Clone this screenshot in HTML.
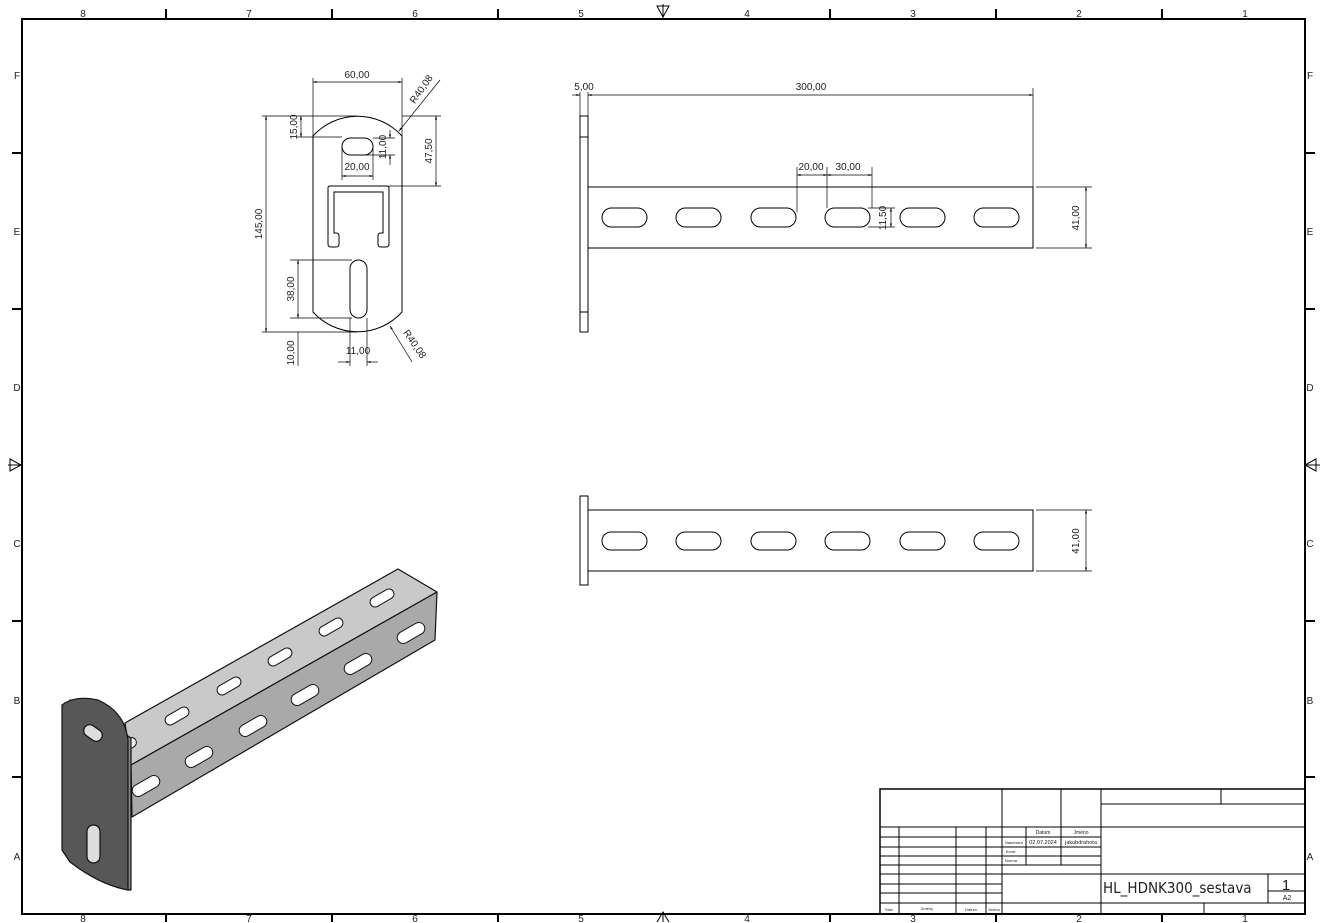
<!DOCTYPE html>
<html><head><meta charset="utf-8"><style>
html,body{margin:0;padding:0;background:#fff}
svg{display:block}
text{font-family:"Liberation Sans",sans-serif;fill:#222}
.d{font-size:10px;font-family:"DejaVu Sans Condensed","Liberation Sans",sans-serif}
.l{stroke:#000;stroke-width:1;fill:none}
.t{stroke:#000;stroke-width:0.7;fill:none}
</style></head><body>
<svg width="1325" height="923" viewBox="0 0 1325 923" xmlns="http://www.w3.org/2000/svg">
<defs>
<marker id="a" viewBox="0 0 10 10" refX="10" refY="5" markerWidth="7" markerHeight="5" orient="auto-start-reverse"><path d="M0,2 L10,5 L0,8 z" fill="#000"/></marker>
</defs>
<!-- frame -->
<rect x="22" y="19" width="1283" height="895" fill="none" stroke="#000" stroke-width="2"/>
<g stroke="#000" stroke-width="2">
<line x1="166" y1="9" x2="166" y2="19"/><line x1="332" y1="9" x2="332" y2="19"/><line x1="498" y1="9" x2="498" y2="19"/><line x1="830" y1="9" x2="830" y2="19"/><line x1="996" y1="9" x2="996" y2="19"/><line x1="1162" y1="9" x2="1162" y2="19"/>
<line x1="166" y1="914" x2="166" y2="922"/><line x1="332" y1="914" x2="332" y2="922"/><line x1="498" y1="914" x2="498" y2="922"/><line x1="830" y1="914" x2="830" y2="922"/><line x1="996" y1="914" x2="996" y2="922"/><line x1="1162" y1="914" x2="1162" y2="922"/>
<line x1="12" y1="153" x2="22" y2="153"/><line x1="12" y1="309" x2="22" y2="309"/><line x1="12" y1="621" x2="22" y2="621"/><line x1="12" y1="777" x2="22" y2="777"/>
<line x1="1305" y1="153" x2="1315" y2="153"/><line x1="1305" y1="309" x2="1315" y2="309"/><line x1="1305" y1="621" x2="1315" y2="621"/><line x1="1305" y1="777" x2="1315" y2="777"/>
</g>
<g class="l">
<path d="M657,6 L669,6 L663,17 z M663,4 L663,19"/>
<path d="M657,922 L663,912 L669,922"/><line x1="663" y1="912" x2="663" y2="922"/>
<path d="M10,459 L10,471 L21,465 z M8,465 L22,465"/>
<path d="M1316,459 L1316,471 L1305,465 z M1305,465 L1320,465"/>
</g>
<g font-size="10" text-anchor="middle">
<text x="83" y="17">8</text><text x="249" y="17">7</text><text x="415" y="17">6</text><text x="581" y="17">5</text><text x="747" y="17">4</text><text x="913" y="17">3</text><text x="1079" y="17">2</text><text x="1245" y="17">1</text>
<text x="83" y="922">8</text><text x="249" y="922">7</text><text x="415" y="922">6</text><text x="581" y="922">5</text><text x="747" y="922">4</text><text x="913" y="922">3</text><text x="1079" y="922">2</text><text x="1245" y="922">1</text>
<text x="17" y="79">F</text><text x="17" y="235">E</text><text x="17" y="391">D</text><text x="17" y="547">C</text><text x="17" y="704">B</text><text x="17" y="860">A</text>
<text x="1310" y="79">F</text><text x="1310" y="235">E</text><text x="1310" y="391">D</text><text x="1310" y="547">C</text><text x="1310" y="704">B</text><text x="1310" y="860">A</text>
</g>

<!-- front view -->
<g class="l">
<path d="M313,136 A60,60 0 0 1 402,136 L402,312 A60,60 0 0 1 313,312 Z"/>
<rect x="342" y="138" width="31" height="17" rx="8.5"/>
<rect x="350" y="260" width="17" height="58" rx="8.5"/>
<path d="M330,186 L387,186 Q389,186 389,188 L389,244 Q389,247 386,247 L381,247 Q378,247 378,244 L378,236 Q378,233 381,233 L383,233 L383,192 L334,192 L334,233 L336,233 Q339,233 339,236 L339,244 Q339,247 336,247 L331,247 Q328,247 328,244 L328,188 Q328,186 330,186 Z"/>
</g>
<g class="t">
<line x1="313" y1="78" x2="313" y2="136"/><line x1="402" y1="78" x2="402" y2="136"/>
<line x1="313" y1="82" x2="402" y2="82" marker-start="url(#a)" marker-end="url(#a)"/>
<line x1="262" y1="116" x2="357" y2="116"/><line x1="262" y1="332" x2="357" y2="332"/>
<line x1="266" y1="116" x2="266" y2="332" marker-start="url(#a)" marker-end="url(#a)"/>
<line x1="297" y1="137" x2="342" y2="137"/>
<line x1="301" y1="116" x2="301" y2="137" marker-start="url(#a)" marker-end="url(#a)"/>
<line x1="373" y1="138" x2="395" y2="138"/><line x1="365" y1="155" x2="395" y2="155"/>
<line x1="390" y1="130" x2="390" y2="138" marker-end="url(#a)"/><line x1="390" y1="165" x2="390" y2="155" marker-end="url(#a)"/>
<line x1="342" y1="147" x2="342" y2="180"/><line x1="373" y1="147" x2="373" y2="180"/>
<line x1="342" y1="176" x2="373" y2="176" marker-start="url(#a)" marker-end="url(#a)"/>
<line x1="402" y1="116" x2="441" y2="116"/><line x1="389" y1="186" x2="441" y2="186"/>
<line x1="436" y1="116" x2="436" y2="186" marker-start="url(#a)" marker-end="url(#a)"/>
<line x1="290" y1="260" x2="352" y2="260"/><line x1="290" y1="318" x2="352" y2="318"/>
<line x1="298" y1="260" x2="298" y2="318" marker-start="url(#a)" marker-end="url(#a)"/>
<line x1="298" y1="332" x2="298" y2="366"/>
<line x1="350" y1="318" x2="350" y2="366"/><line x1="367" y1="318" x2="367" y2="366"/>
<line x1="338" y1="362" x2="350" y2="362" marker-end="url(#a)"/><line x1="378" y1="362" x2="367" y2="362" marker-end="url(#a)"/>
<line x1="440" y1="80" x2="399" y2="131" marker-end="url(#a)"/>
<line x1="412" y1="362" x2="390" y2="326" marker-end="url(#a)"/>
</g>
<g class="d" text-anchor="middle">
<text x="357" y="78">60,00</text>
<text x="357" y="170">20,00</text>
<text x="358" y="354">11,00</text>
<text transform="translate(262,224) rotate(-90)">145,00</text>
<text transform="translate(297,127) rotate(-90)">15,00</text>
<text transform="translate(386,147) rotate(-90)">11,00</text>
<text transform="translate(432,151) rotate(-90)">47,50</text>
<text transform="translate(294,289) rotate(-90)">38,00</text>
<text transform="translate(294,353) rotate(-90)">10,00</text>
<text transform="translate(424,91) rotate(-55)">R40,08</text>
<text transform="translate(412,346) rotate(55)">R40,08</text>
</g>

<!-- side view -->
<g class="l">
<rect x="580" y="116" width="8" height="216"/>
<line x1="580" y1="137" x2="588" y2="137"/><line x1="580" y1="312" x2="588" y2="312"/>
<rect x="588" y="187" width="445" height="61"/>
<rect x="602" y="208" width="45" height="19" rx="9.5"/>
<rect x="676" y="208" width="45" height="19" rx="9.5"/>
<rect x="751" y="208" width="45" height="19" rx="9.5"/>
<rect x="825" y="208" width="45" height="19" rx="9.5"/>
<rect x="900" y="208" width="45" height="19" rx="9.5"/>
<rect x="974" y="208" width="45" height="19" rx="9.5"/>
</g>
<g class="t">
<line x1="580" y1="92" x2="580" y2="116"/><line x1="588" y1="92" x2="588" y2="116"/>
<line x1="572" y1="95" x2="580" y2="95" marker-end="url(#a)"/>
<line x1="588" y1="95" x2="1033" y2="95" marker-start="url(#a)" marker-end="url(#a)"/>
<line x1="1033" y1="88" x2="1033" y2="187"/>
<line x1="797" y1="167" x2="797" y2="212"/><line x1="827" y1="167" x2="827" y2="208"/><line x1="872" y1="167" x2="872" y2="208"/>
<line x1="797" y1="175" x2="827" y2="175" marker-start="url(#a)" marker-end="url(#a)"/>
<line x1="827" y1="175" x2="872" y2="175" marker-start="url(#a)" marker-end="url(#a)"/>
<line x1="868" y1="208" x2="895" y2="208"/><line x1="868" y1="227" x2="895" y2="227"/>
<line x1="891" y1="208" x2="891" y2="227" marker-start="url(#a)" marker-end="url(#a)"/>
<line x1="1036" y1="187" x2="1092" y2="187"/><line x1="1036" y1="248" x2="1092" y2="248"/>
<line x1="1086" y1="187" x2="1086" y2="248" marker-start="url(#a)" marker-end="url(#a)"/>
</g>
<g class="d" text-anchor="middle">
<text x="584" y="90">5,00</text><text x="811" y="90">300,00</text>
<text x="811" y="170">20,00</text><text x="848" y="170">30,00</text>
<text transform="translate(886,218) rotate(-90)">11,50</text>
<text transform="translate(1079,218) rotate(-90)">41,00</text>
</g>

<!-- bottom view -->
<g class="l">
<rect x="580" y="496" width="8" height="89"/>
<rect x="588" y="510" width="445" height="61"/>
<rect x="602" y="532" width="45" height="18" rx="9"/>
<rect x="676" y="532" width="45" height="18" rx="9"/>
<rect x="751" y="532" width="45" height="18" rx="9"/>
<rect x="825" y="532" width="45" height="18" rx="9"/>
<rect x="900" y="532" width="45" height="18" rx="9"/>
<rect x="974" y="532" width="45" height="18" rx="9"/>
</g>
<g class="t">
<line x1="1036" y1="510" x2="1092" y2="510"/><line x1="1036" y1="571" x2="1092" y2="571"/>
<line x1="1086" y1="510" x2="1086" y2="571" marker-start="url(#a)" marker-end="url(#a)"/>
</g>
<text class="d" text-anchor="middle" transform="translate(1079,541) rotate(-90)">41,00</text>

<!-- 3D view -->
<g stroke="#111" stroke-width="1.2" stroke-linejoin="round">
<polygon points="125,723 398,569 437,592 131,765" fill="#c9c9c9"/>
<polygon points="131,765 437,592 435,640 132,817" fill="#a9a9a9"/>
<g fill="#fff" stroke-width="1">
<g transform="translate(382,598) rotate(-30)"><rect x="-13" y="-5" width="26" height="10" rx="5"/></g>
<g transform="translate(331,627) rotate(-30)"><rect x="-13" y="-5" width="26" height="10" rx="5"/></g>
<g transform="translate(280,657) rotate(-30)"><rect x="-13" y="-5" width="26" height="10" rx="5"/></g>
<g transform="translate(229,686) rotate(-30)"><rect x="-13" y="-5" width="26" height="10" rx="5"/></g>
<g transform="translate(177,716) rotate(-30)"><rect x="-13" y="-5" width="26" height="10" rx="5"/></g>
<g transform="translate(127,745) rotate(-30)"><rect x="-10" y="-5" width="20" height="10" rx="5"/></g>
<g transform="translate(411,633) rotate(-30)"><rect x="-15" y="-6" width="30" height="12" rx="6"/></g>
<g transform="translate(358,664) rotate(-30)"><rect x="-15" y="-6" width="30" height="12" rx="6"/></g>
<g transform="translate(305,695) rotate(-30)"><rect x="-15" y="-6" width="30" height="12" rx="6"/></g>
<g transform="translate(253,726) rotate(-30)"><rect x="-15" y="-6" width="30" height="12" rx="6"/></g>
<g transform="translate(199,757) rotate(-30)"><rect x="-15" y="-6" width="30" height="12" rx="6"/></g>
<g transform="translate(146,786) rotate(-30)"><rect x="-15" y="-6" width="30" height="12" rx="6"/></g>
</g>
<path d="M125,740 Q126,712 100,704 L70,700 L131,738 L131,890 L128,890 Z" fill="#8a8a8a"/>
<path d="M62,705 Q75,695 98,700 Q125,712 128,740 L128,890 Q100,885 70,862 L62,850 Z" fill="#575757"/>
<g transform="translate(93,733) rotate(35)"><rect x="-10" y="-6" width="20" height="12" rx="6" fill="#ddd"/></g>
<rect x="87" y="825" width="13" height="38" rx="6.5" fill="#ddd"/>
</g>

<!-- title block -->
<g class="l" stroke-width="1">
<rect x="880" y="789" width="425" height="125" stroke-width="1.5"/>
<line x1="1002" y1="789" x2="1002" y2="914"/>
<line x1="1061" y1="789" x2="1061" y2="865"/>
<line x1="1101" y1="789" x2="1101" y2="914"/>
<line x1="1221" y1="789" x2="1221" y2="804"/>
<line x1="1101" y1="804" x2="1305" y2="804"/>
<line x1="880" y1="827" x2="1305" y2="827"/>
<line x1="899" y1="827" x2="899" y2="914"/><line x1="956" y1="827" x2="956" y2="914"/><line x1="986" y1="827" x2="986" y2="914"/>
<line x1="1026" y1="827" x2="1026" y2="865"/>
<line x1="880" y1="837" x2="1101" y2="837"/><line x1="880" y1="847" x2="1101" y2="847"/><line x1="880" y1="856" x2="1101" y2="856"/><line x1="880" y1="865" x2="1101" y2="865"/>
<line x1="880" y1="874" x2="1305" y2="874"/><line x1="880" y1="884" x2="1002" y2="884"/><line x1="880" y1="893" x2="1002" y2="893"/>
<line x1="880" y1="903" x2="1305" y2="903"/>
<line x1="1268" y1="874" x2="1268" y2="903"/><line x1="1268" y1="891" x2="1305" y2="891"/>
<line x1="1204" y1="903" x2="1204" y2="914"/>
</g>
<g font-size="5" text-anchor="middle">
<text x="1043" y="834">Datum</text><text x="1081" y="834">Jméno</text>
<text x="1014" y="844" font-size="4">Nakreslen</text>
<text x="1043" y="844" font-size="5.5">02.07.2024</text><text x="1081" y="844" font-size="5.5">jakubdrahota</text>
<text x="1011" y="853" font-size="4">Kontr.</text><text x="1011" y="862" font-size="4">Norma</text>
<text x="889" y="911" font-size="4">Stav</text><text x="927" y="910" font-size="4">Změny</text><text x="971" y="911" font-size="4">Datum</text><text x="994" y="911" font-size="4">Jméno</text>
</g>
<text x="1103" y="893" font-size="15" style="font-family:'DejaVu Sans Condensed','Liberation Sans Narrow','Liberation Sans',sans-serif">HL_HDNK300_sestava</text>
<text x="1286" y="890" font-size="15" text-anchor="middle">1</text>
<text x="1287" y="900" font-size="7" text-anchor="middle">A2</text>
</svg>
</body></html>
